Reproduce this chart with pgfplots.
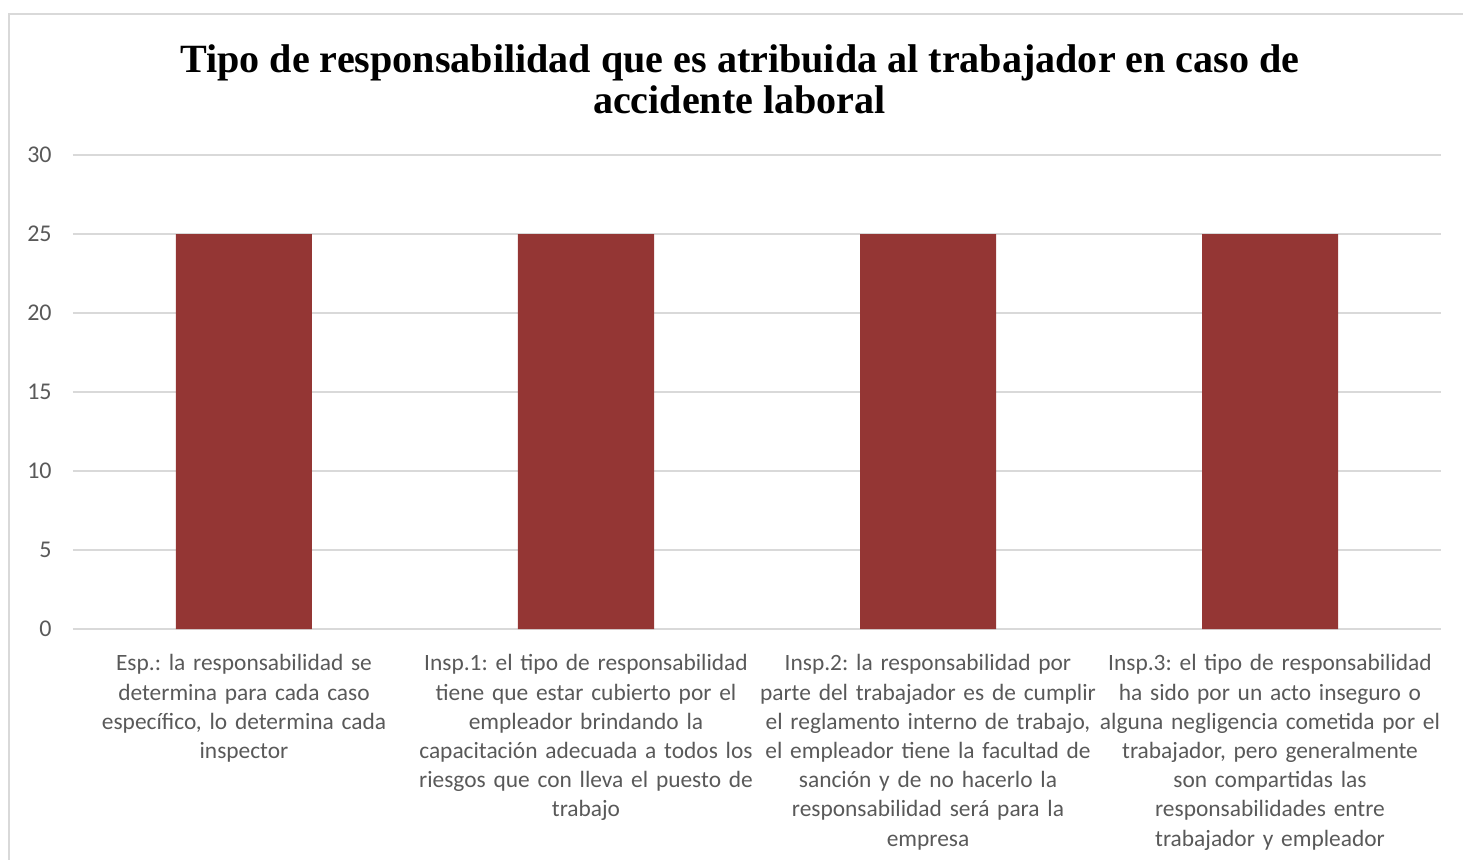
\documentclass[border=0pt]{standalone}
\usepackage{pgfplots}
\pgfplotsset{compat=1.18}
\usepackage{fontspec}
\setmainfont{Carlito}
\newfontfamily\titlefont{Liberation Serif}
\definecolor{barred}{HTML}{943634}
\definecolor{txt}{HTML}{595959}
\definecolor{gridc}{HTML}{D9D9D9}
\frenchspacing
\begin{document}
\frenchspacing
\begin{tikzpicture}
\begin{axis}[
  at={(0,0)}, anchor=south west,
  scale only axis, width=684pt, height=237pt,
  xmin=-0.5, xmax=3.5, ymin=0, ymax=30,
  ytick={0,5,10,15,20,25,30},
  xtick={0,1,2,3},
  xticklabels={
    {\rule{0pt}{9pt}Esp.: la responsabilidad se\\determina para cada caso\\específico, lo determina cada\\inspector},
    {\rule{0pt}{9pt}Insp.1: el tipo de responsabilidad\\tiene que estar cubierto por el\\empleador brindando la\\capacitación adecuada a todos los\\riesgos que con lleva el puesto de\\trabajo},
    {\rule{0pt}{9pt}Insp.2: la responsabilidad por\\parte del trabajador es de cumplir\\el reglamento interno de trabajo,\\el empleador tiene la facultad de\\sanción y de no hacerlo la\\responsabilidad será para la\\empresa},
    {\rule{0pt}{9pt}Insp.3: el tipo de responsabilidad\\ha sido por un acto inseguro o\\alguna negligencia cometida por el\\trabajador, pero generalmente\\son compartidas las\\responsabilidades entre\\trabajador y empleador}
  },
  xticklabel style={text width=175pt, align=center, anchor=north, inner sep=0pt, yshift=-7.5pt,
    font=\frenchspacing\fontsize{11.7}{14.6}\selectfont, text=txt},
  yticklabel style={anchor=east, inner sep=0pt, xshift=-10.5pt,
    font=\fontsize{12}{14}\selectfont, text=txt},
  /pgf/number format/assume math mode=true,
  axis line style={draw=none},
  major tick style={draw=none},
  ymajorgrids, grid style={gridc, line width=1pt},
  ybar, bar width=68pt,
]
\addplot[fill=barred, draw=none] coordinates {(0,25) (1,25) (2,25) (3,25)};
\end{axis}
\node[font=\titlefont\bfseries\fontsize{20.05}{21}\selectfont, anchor=base] at (333.5pt,278.5pt) {Tipo de responsabilidad que es atribuida al trabajador en caso de};
\node[font=\titlefont\bfseries\fontsize{20.05}{21}\selectfont, anchor=base] at (333.25pt,258pt) {accidente laboral};
\draw[gridc, line width=1pt] (-32pt,-130pt) -- (-32pt,307.5pt) -- (710pt,307.5pt);
\pgfresetboundingbox
\useasboundingbox (-36.5pt,-115pt) rectangle (695pt,314.5pt);
\end{tikzpicture}
\end{document}
